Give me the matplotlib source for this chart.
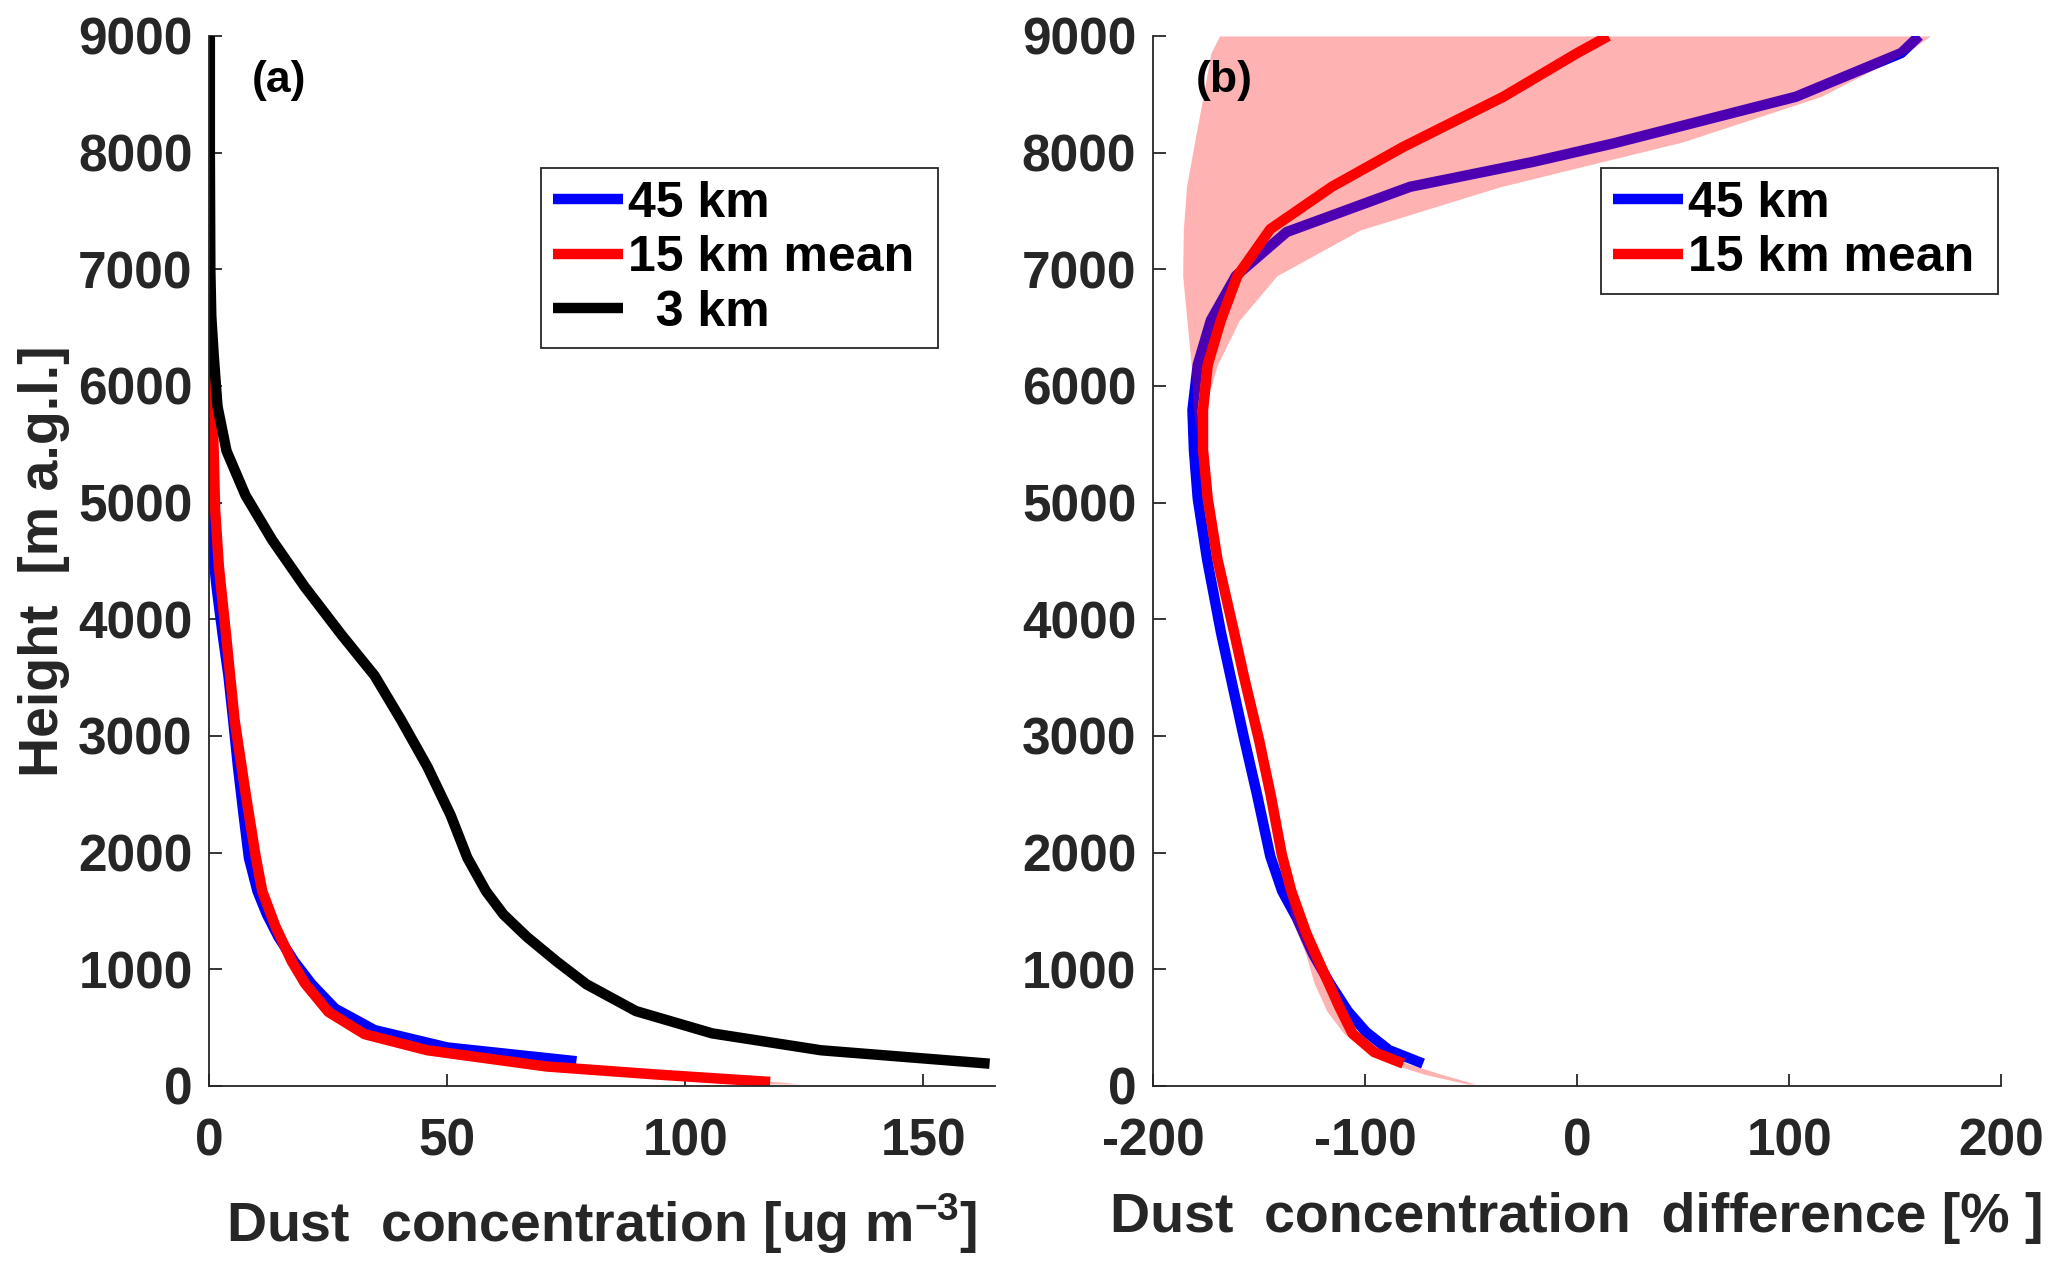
import matplotlib
matplotlib.use('Agg')
import matplotlib.pyplot as plt

plt.rcParams['font.family'] = ['Liberation Sans', 'DejaVu Sans']
plt.rcParams['font.weight'] = 'bold'
plt.rcParams['axes.unicode_minus'] = False
plt.rcParams['mathtext.fontset'] = 'custom'
plt.rcParams['mathtext.bf'] = 'Liberation Sans:bold'
plt.rcParams['mathtext.rm'] = 'Liberation Sans:bold'

# panel (a): dust concentration profiles
h_3km = [9000, 8000, 7000, 6600, 6269, 5826, 5443, 5061, 4679, 4280, 3865, 3517, 3135,
         2736, 2319, 1955, 1670, 1469, 1278, 1069, 872, 642, 451, 306, 191]
c_3km = [0.1, 0.1, 0.2, 0.4, 0.9, 1.7, 3.6, 7.6, 13.2, 20, 27.8, 34.7, 40.3,
         45.8, 50.7, 54.2, 58.1, 61.8, 66.7, 72.9, 79.2, 89.6, 105.6, 128.5, 163.9]

h_45km = [9000, 7000, 5000, 4679, 4280, 3865, 3517, 3135, 2736, 2319, 1955, 1670,
          1469, 1278, 1069, 872, 663, 479, 330, 212]
c_45km = [0, 0, 0.1, 0.5, 1.5, 2.8, 4.0, 5.0, 6.0, 7.2, 8.3, 10.1,
          12.1, 14.5, 17.8, 21.5, 26.4, 34.7, 50.0, 77.1]

h_15km = [9000, 7000, 6300, 6124, 5443, 4944, 4449, 3865, 3135, 2510, 1972, 1670,
          1365, 1069, 878, 635, 444, 306, 167, 97, 35]
c_15km = [0, 0, 0.1, 0.4, 0.9, 1.2, 2.0, 3.5, 5.3, 7.6, 9.7, 11.1,
          13.9, 17.3, 20.1, 25.0, 32.6, 45.8, 70.8, 94.4, 117.8]

# 15 km spread near the surface (mostly hidden under the red line)
h_band_a = [18, 35, 97, 167]
lo_band_a = [117, 112, 90, 68]
hi_band_a = [124, 120, 97, 73]

# panel (b): difference in percent
h_diff45 = [9000, 8854, 8479, 8079, 7921, 7707, 7319, 6944, 6563, 6181, 5792, 5451,
            5035, 4514, 3892, 3507, 2983, 2493, 1969, 1671, 1444, 1129, 885, 640,
            465, 308, 192]
d_45km = [161.2, 152.8, 103.1, 17.1, -20.7, -78.8, -137.0, -160.9, -172.7, -178.9,
          -181.4, -180.7, -178.9, -174.5, -168.0, -163.4, -157.1, -150.9, -144.7,
          -139.1, -132.3, -124.5, -116.8, -108.1, -99.7, -88.8, -72.7]

h_diff15 = [9000, 8851, 8479, 8050, 7707, 7344, 6944, 6563, 6181, 5792, 5451, 5035,
            4514, 3892, 3507, 2948, 2493, 1986, 1671, 1304, 990, 675, 448, 290, 192]
d_15km = [14.7, -0.2, -34.8, -81.9, -115.7, -144.7, -160.2, -168.0, -174.2, -176.4,
          -176.4, -174.2, -169.6, -161.8, -157.1, -149.8, -144.5, -139.3, -134.8,
          -127.6, -119.9, -112.1, -105.9, -95.7, -82.0]

h_band = [17, 100, 192, 300, 450, 640, 880, 1130, 1450, 1670, 1980, 2500, 3000, 3500,
          3880, 4500, 5030, 5450, 5792, 6181, 6563, 6944, 7336, 7707, 8090, 8479, 8854, 9000]
lo_band = [-52, -72, -88, -99, -110, -118, -124, -128, -135, -137, -141, -146, -151, -158,
           -164, -171, -176, -178, -181, -182, -184, -186, -185.7, -184.2, -180.4, -176.4,
           -172.7, -168.6]
hi_band = [-48, -64, -80, -93, -104, -110, -117, -122, -130, -133, -137, -143, -148, -155,
           -160, -168, -172, -174.5, -176, -169.6, -159.3, -141.6, -102.4, -36.4, 49.4,
           114.6, 155, 166.5]

grey = '#262626'
lw = 7.5
fs_tick = 37
fs_leg = 36
fs_label = 40
fs_panel = 32

fig = plt.figure(figsize=(20.67, 12.70), dpi=100)
ax1 = fig.add_axes([0.1013, 0.1449, 0.3800, 0.8268])
ax2 = fig.add_axes([0.5578, 0.1449, 0.4105, 0.8268])


def style_axes(ax):
    for s in ['top', 'right']:
        ax.spines[s].set_visible(False)
    for s in ['left', 'bottom']:
        ax.spines[s].set_color(grey)
        ax.spines[s].set_linewidth(1.3)
    ax.tick_params(direction='in', length=9, width=1.3, colors=grey,
                   labelsize=fs_tick, labelcolor=grey)
    ax.tick_params(axis='y', pad=12)
    ax.tick_params(axis='x', pad=23)
    for lab in ax.get_xticklabels() + ax.get_yticklabels():
        lab.set_fontweight('bold')


def add_legend(ax, handles, box):
    leg = ax.legend(handles=handles, loc='upper left', bbox_to_anchor=box,
                    bbox_transform=fig.transFigure, mode='expand', fontsize=fs_leg,
                    handlelength=1.4, handletextpad=0.1, borderaxespad=0,
                    fancybox=False, framealpha=1, edgecolor=grey, labelspacing=0.17,
                    borderpad=0.25)
    leg.get_frame().set_linewidth(1.3)
    return leg


# (a)
ax1.fill_betweenx(h_band_a, lo_band_a, hi_band_a, color='red', alpha=0.3, lw=0)
l1, = ax1.plot(c_45km, h_45km, color='blue', lw=lw, label='45 km', solid_capstyle='butt')
l2, = ax1.plot(c_15km, h_15km, color='red', lw=lw, label='15 km mean', solid_capstyle='butt')
l3, = ax1.plot(c_3km, h_3km, color='black', lw=lw, label='  3 km', solid_capstyle='butt')
ax1.set_xlim(0, 165)
ax1.set_ylim(0, 9000)
ax1.set_xticks([0, 50, 100, 150])
ax1.set_yticks(range(0, 9001, 1000))
style_axes(ax1)
ax1.set_xlabel(r'Dust  concentration [ug m$^{\mathbf{-3}}$]', fontsize=fs_label,
               fontweight='bold', color=grey, labelpad=18)
ax1.set_ylabel('Height  [m a.g.l.]', fontsize=fs_label, fontweight='bold',
               color=grey, labelpad=6)
ax1.text(9, 8620, '(a)', fontsize=fs_panel, fontweight='bold', va='center')
add_legend(ax1, [l1, l2, l3], (0.2615, 0.7244, 0.1925, 0.1433))

# (b): the spread is drawn over the 45 km line, under the 15 km mean
m1, = ax2.plot(d_45km, h_diff45, color='blue', lw=lw, label='45 km',
               solid_capstyle='butt', zorder=2)
ax2.fill_betweenx(h_band, lo_band, hi_band, color='red', alpha=0.3, lw=0, zorder=2.5)
m2, = ax2.plot(d_15km, h_diff15, color='red', lw=lw, label='15 km mean',
               solid_capstyle='butt', zorder=3)
ax2.set_xlim(-200, 200)
ax2.set_ylim(0, 9000)
ax2.set_xticks([-200, -100, 0, 100, 200])
ax2.set_yticks(range(0, 9001, 1000))
style_axes(ax2)
ax2.set_xlabel('Dust  concentration  difference [% ]', fontsize=fs_label,
               fontweight='bold', color=grey, labelpad=18)
ax2.text(-180, 8620, '(b)', fontsize=fs_panel, fontweight='bold', va='center')
add_legend(ax2, [m1, m2], (0.7744, 0.7705, 0.1923, 0.0972))

fig.savefig('out.png', dpi=100)
